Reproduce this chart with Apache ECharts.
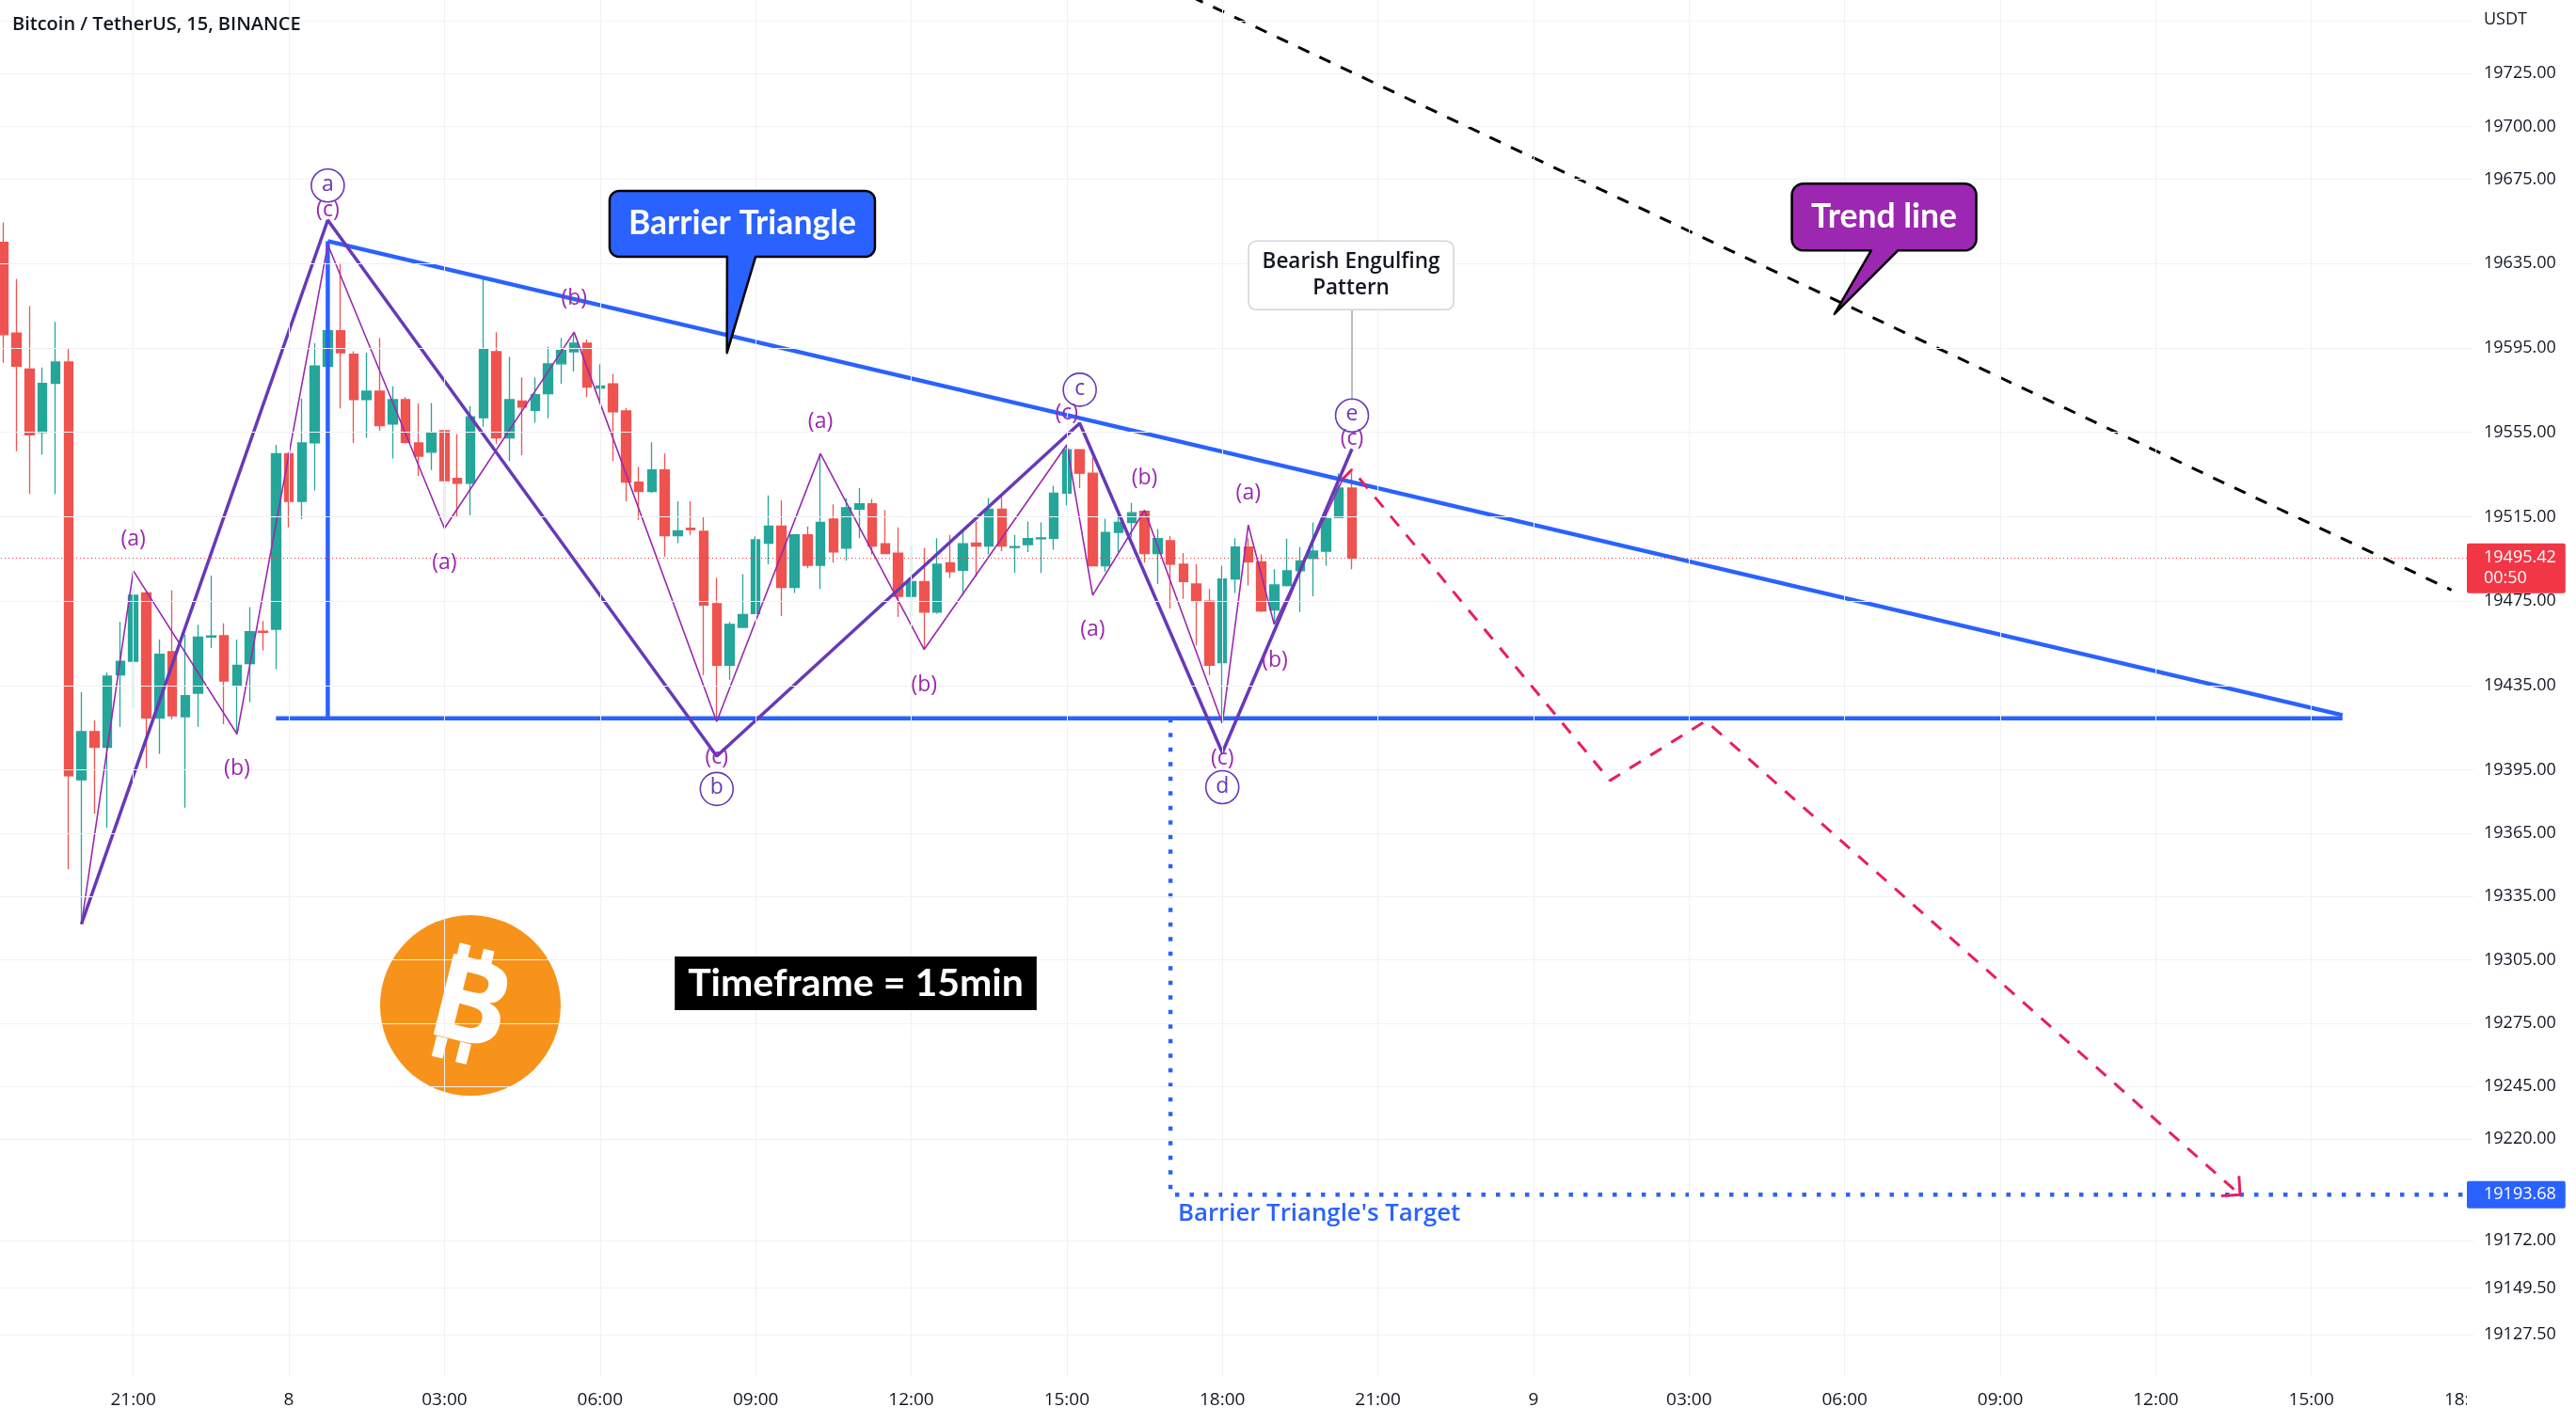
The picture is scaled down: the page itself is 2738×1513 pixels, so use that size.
<!DOCTYPE html>
<html>
<head>
<meta charset="utf-8">
<script src="https://cdn.jsdelivr.net/npm/echarts@6.0.0/dist/echarts.min.js"></script>
<style>
html,body{margin:0;padding:0;background:#ffffff;}
#chart{width:2738px;height:1513px;}
</style>
</head>
<body>
<div id="chart"></div>
<script>
// ---------- time axis: 15-minute bars, first bar on the 7th at 18:30 ----------
const firstBarDay = 7;
const firstBarMinute = 18 * 60 + 30;
const barCount = 191;
const categories = [];
for (let i = 0; i < barCount; i++) {
  const t = firstBarMinute + i * 15;
  const d = firstBarDay + Math.floor(t / 1440);
  const m = t % 1440;
  categories.push(d + ' ' + String(Math.floor(m / 60)).padStart(2, '0') + ':' + String(m % 60).padStart(2, '0'));
}

// ---------- candles ----------
const opens = [19645.1,19602.0,19585.0,19554.9,19578.2,19588.3,19390.3,19413.2,19405.7,19440.0,
  19446.5,19478.9,19419.7,19451.0,19420.2,19431.4,19458.0,19458.6,19435.3,19445.4,
  19460.8,19461.7,19544.9,19522.3,19550.0,19586.4,19603.2,19592.0,19570.5,19574.5,
  19558.9,19570.5,19550.0,19545.6,19555.8,19533.2,19530.9,19561.9,19593.2,19552.4,
  19569.8,19565.4,19573.3,19587.5,19593.2,19597.3,19576.0,19578.0,19565.2,19531.4,
  19527.0,19537.2,19506.0,19509.6,19508.1,19473.8,19444.6,19462.6,19469.1,19502.5,
  19510.6,19481.5,19506.4,19492.0,19513.9,19500.1,19518.6,19521.1,19502.2,19497.8,
  19477.3,19484.3,19469.8,19493.2,19489.6,19502.5,19501.1,19518.6,19500.4,19501.8,
  19504.6,19504.8,19526.2,19546.8,19535.6,19491.8,19507.6,19512.3,19517.6,19497.6,
  19503.6,19492.5,19483.1,19475.0,19445.8,19485.5,19500.6,19493.6,19470.8,19482.4,
  19489.4,19495.2,19498.7,19514.6,19528.6];
const closes = [19601.3,19586.4,19553.8,19578.2,19588.3,19392.2,19413.2,19405.7,19439.5,19446.5,
  19477.8,19419.7,19449.8,19420.7,19430.2,19458.0,19458.5,19437.2,19444.6,19460.5,
  19460.2,19544.9,19522.3,19550.0,19586.4,19603.2,19592.7,19570.5,19574.5,19558.2,
  19570.5,19550.3,19543.7,19554.7,19532.1,19530.9,19562.4,19594.3,19552.4,19570.5,
  19567.0,19572.9,19587.5,19593.8,19597.3,19576.4,19577.0,19564.7,19531.4,19527.0,
  19537.2,19506.0,19508.3,19508.9,19473.1,19444.6,19464.0,19468.7,19504.1,19510.6,
  19481.5,19506.4,19492.0,19512.3,19498.3,19519.3,19521.1,19501.1,19497.6,19477.3,
  19484.3,19469.8,19492.5,19489.0,19502.2,19501.1,19518.6,19501.1,19500.9,19504.6,
  19505.0,19526.2,19546.8,19535.6,19491.8,19507.6,19512.3,19516.9,19497.6,19504.6,
  19492.5,19484.3,19475.0,19444.6,19485.5,19500.6,19493.6,19470.3,19482.7,19489.4,
  19494.1,19498.7,19514.1,19528.6,19495.42];
const lows = [19588.0,19546.1,19525.8,19544.4,19525.8,19347.9,19321.8,19374.3,19367.7,19415.5,
  19424.4,19395.7,19402.7,19419.0,19377.1,19415.5,19452.8,19416.7,19412.0,19427.2,
  19451.7,19442.8,19510.0,19513.9,19527.4,19583.0,19566.3,19550.0,19552.4,19555.8,
  19542.6,19549.6,19534.4,19537.2,19510.0,19515.1,19515.8,19557.7,19549.6,19541.4,
  19544.2,19559.6,19561.7,19578.0,19583.8,19571.7,19570.5,19541.4,19522.3,19513.4,
  19526.3,19496.0,19502.5,19506.4,19440.0,19417.9,19437.7,19462.3,19468.9,19492.5,
  19468.0,19478.9,19490.6,19480.8,19493.2,19494.3,19504.8,19497.1,19497.4,19467.5,
  19467.5,19452.8,19469.1,19486.0,19477.8,19486.6,19497.1,19498.7,19488.3,19498.3,
  19488.3,19499.4,19520.4,19528.6,19491.5,19489.0,19498.3,19505.3,19493.2,19483.1,
  19471.5,19476.1,19454.0,19440.0,19417.1,19478.9,19482.4,19469.8,19464.0,19482.0,
  19469.8,19477.3,19491.8,19514.6,19490.1];
const highs = [19654.5,19627.6,19614.8,19585.7,19607.4,19595.0,19431.8,19418.6,19441.2,19465.2,
  19482.0,19479.5,19456.8,19480.1,19459.1,19463.8,19487.1,19464.5,19456.8,19472.2,
  19465.6,19549.1,19545.5,19571.0,19597.3,19608.0,19635.3,19593.4,19592.7,19599.7,
  19576.8,19571.7,19568.7,19568.9,19556.0,19554.2,19567.5,19627.6,19602.5,19590.8,
  19581.0,19581.0,19595.7,19599.7,19602.0,19599.0,19587.3,19582.7,19566.6,19538.6,
  19550.3,19544.9,19522.3,19522.3,19515.1,19486.0,19465.2,19487.8,19505.7,19525.1,
  19522.8,19506.8,19510.4,19544.9,19520.9,19523.9,19528.6,19523.4,19518.1,19510.0,
  19501.3,19500.1,19504.8,19506.4,19508.1,19512.7,19523.9,19524.4,19506.4,19512.7,
  19512.3,19529.7,19548.9,19547.0,19543.0,19514.1,19515.8,19521.6,19517.8,19509.2,
  19506.0,19497.8,19492.5,19480.8,19491.8,19504.8,19504.8,19497.1,19490.1,19504.6,
  19500.6,19512.3,19518.1,19535.6,19536.0];

// ---------- price scale ----------
const priceMin = 19107.8;
const priceMax = 19759.9;
const priceTicks = [19725, 19700, 19675, 19635, 19595, 19555, 19515, 19475, 19435, 19395,
  19365, 19335, 19305, 19275, 19245, 19220, 19172, 19149.5, 19127.5];
const priceGridOnly = [19750];
const lastPrice = 19495.42;
const lastPriceTimer = '00:50';
const targetPrice = 19193.68;

// ---------- drawings (x = bar index, y = price) ----------
const waveMainX = [6, 25, 55, 83, 94, 104];
const waveMainY = [19322, 19655.6, 19401.5, 19559.3, 19403.2, 19547.2];
const waveSubX = [6, 10, 18, 25, 34, 44, 55, 63, 71, 82, 84, 88, 94, 96, 98, 103.3];
const waveSubY = [19321.8, 19489.4, 19412.0, 19644, 19509.5, 19602.5, 19417.9, 19544.9, 19452.1,
  19549.1, 19477.8, 19518.1, 19417.1, 19511.1, 19464.0, 19533];
const triUpperX = [25, 180.4];
const triUpperY = [19645.6, 19421];
const triSideX = [25, 25];
const triSideY = [19645.6, 19419.5];
const triBaseX = [21, 180.4];
const triBaseY = [19419.5, 19419.5];
const trendX = [90, 188.8];
const trendY = [19766.1, 19480.3];
const projX = [103.3, 104, 123.9, 131.3, 172.5];
const projY = [19533, 19537.4, 19390.0, 19418.3, targetPrice];
const targetLineX = [90, 90, 191];
const targetLineY = [19419.5, targetPrice, targetPrice];

const waveLabelText = ['(a)','(b)','(c)','(a)','(b)','(c)','(a)','(b)','(c)','(a)','(b)','(c)','(a)','(b)','(c)'];
const waveLabelX = [10, 18, 25, 34, 44, 55, 63, 71, 82, 84, 88, 94, 96, 98.05, 104];
const waveLabelY = [19504.1, 19395.7, 19660.3, 19493.1, 19618.3, 19400.8, 19560.0, 19435.3, 19564.0,
  19461.7, 19533.2, 19400.3, 19526.2, 19447.0, 19552.0];
const circleText = ['a', 'b', 'c', 'd', 'e'];
const circleX = [25, 55, 83, 94, 104];
const circleY = [19672, 19386, 19575.2, 19386.8, 19563];

const calloutText = ['Barrier Triangle', 'Trend line'];
const calloutCenterX = [56.97, 145.04];
const calloutCenterY = [19653.8, 19657.0];
const calloutTipX = [55.79, 141.21];
const calloutTipY = [19592.7, 19611.1];

const noteText = 'Bearish Engulfing\nPattern';
const notePos = [103.93, 19629.4];
const noteTarget = [104, 19570.1];
const timeframeText = 'Timeframe = 15min';
const timeframePos = [65.72, 19293.9];
const logoPos = [36.0, 19283.4];
const targetText = "Barrier Triangle's Target";
const targetTextPos = [90.57, 19184.5];

// ---------- styles ----------
const FONT = '"Open Sans", "Noto Sans", sans-serif';
const TEXT = '#131722';
const BLUE = '#2962ff';
const DEEP_PURPLE = '#673ab7';
const PURPLE = '#9c27b0';
const PINK = '#e91e63';
const calloutStyle = [
  {w: 282, h: 70, r: 10, tail: [0.443, 0.55], fill: BLUE},
  {w: 196, h: 71, r: 12, tail: [0.43, 0.575], fill: PURPLE}
];

function timeOf(v) { return v.split(' ')[1]; }
function isMajor(v) {
  const p = timeOf(v).split(':').map(Number);
  return p[1] === 0 && p[0] % 3 === 0;
}
function fmtTime(v) { const s = v.split(' '); return s[1] === '00:00' ? s[0] : s[1]; }
const xGridIdx = categories.map((c, i) => (isMajor(c) && i < barCount - 1) ? i : -1).filter(i => i >= 0);

function pts(xs, ys) { return xs.map((x, i) => [x, ys[i]]); }
function pathSeries(xs, ys, lineStyle, z) {
  return {type: 'line', xAxisIndex: 1, yAxisIndex: 0, data: pts(xs, ys), symbol: 'none', silent: true,
    clip: true, z: z, lineStyle: lineStyle, emphasis: {disabled: true}, animation: false};
}
function roundRectTail(x0, y0, x1, y1, r, b1, b2, tip) {
  const out = [];
  const arc = (cx, cy, a0, a1) => { for (let k = 0; k <= 6; k++) { const a = a0 + (a1 - a0) * k / 6; out.push([cx + r * Math.cos(a), cy + r * Math.sin(a)]); } };
  arc(x0 + r, y0 + r, Math.PI, 1.5 * Math.PI);
  arc(x1 - r, y0 + r, 1.5 * Math.PI, 2 * Math.PI);
  arc(x1 - r, y1 - r, 0, 0.5 * Math.PI);
  if (tip) { out.push([b2, y1]); out.push(tip); out.push([b1, y1]); }
  arc(x0 + r, y1 - r, 0.5 * Math.PI, Math.PI);
  return out;
}

const chart = echarts.init(document.getElementById('chart'), null, {renderer: 'canvas'});
const option = {
  animation: false,
  backgroundColor: '#ffffff',
  title: [
    {text: 'Bitcoin / TetherUS, 15, BINANCE', left: 13, top: 16, padding: 0,
      textStyle: {fontFamily: FONT, fontSize: 20, fontWeight: 600, color: TEXT}},
    {text: 'USDT', left: 2640, top: 12, padding: 0,
      textStyle: {fontFamily: FONT, fontSize: 18, fontWeight: 'normal', color: TEXT}}
  ],
  grid: {left: -3, right: 109, top: 0, bottom: 50, containLabel: false, outerBoundsMode: 'none'},
  xAxis: [
    {type: 'category', data: categories, boundaryGap: true,
      axisLine: {show: false}, axisTick: {show: false}, splitLine: {show: false},
      axisLabel: {interval: (i, v) => isMajor(v), formatter: fmtTime, color: TEXT, fontSize: 19,
        fontFamily: FONT, margin: 16}},
    {type: 'value', min: -0.5, max: barCount - 0.5, show: false}
  ],
  yAxis: {type: 'value', position: 'right', min: priceMin, max: priceMax,
    axisLine: {show: false}, axisTick: {show: false, customValues: priceTicks}, splitLine: {show: false},
    axisLabel: {customValues: priceTicks, formatter: v => Number(v).toFixed(2), color: TEXT, fontSize: 18,
      fontFamily: FONT, margin: 11}},
  graphic: [
    {type: 'rect', z: 100, shape: {x: 2622, y: 1464, width: 116, height: 49}, style: {fill: '#ffffff'}}
  ],
  series: [
    // grid lines
    {type: 'line', xAxisIndex: 1, yAxisIndex: 0, data: [], z: 0, silent: true,
      markLine: {silent: true, symbol: ['none', 'none'], animation: false, label: {show: false},
        emphasis: {disabled: true},
        lineStyle: {color: '#eef1f6', width: 1, type: 'solid'},
        data: xGridIdx.map(i => ({xAxis: i})).concat(priceTicks.concat(priceGridOnly).map(v => ({yAxis: v})))}},
    // bitcoin logo
    {type: 'custom', xAxisIndex: 1, yAxisIndex: 0, z: 1, silent: true, data: [logoPos],
      renderItem: (params, api) => {
        const c = api.coord([api.value(0), api.value(1)]);
        return {type: 'group', x: c[0], y: c[1], children: [
          {type: 'rect', shape: {x: -180, y: -180, width: 360, height: 360}, style: {fill: '#ffffff'}},
          {type: 'circle', shape: {cx: 0, cy: 0, r: 96}, style: {fill: '#f7931a'}},
          {type: 'group', rotation: -14 * Math.PI / 180, children: [
            {type: 'rect', shape: {x: -27, y: -62, width: 12, height: 22}, style: {fill: '#fff'}},
            {type: 'rect', shape: {x: -1, y: -62, width: 12, height: 22}, style: {fill: '#fff'}},
            {type: 'rect', shape: {x: -27, y: 40, width: 12, height: 22}, style: {fill: '#fff'}},
            {type: 'rect', shape: {x: -1, y: 40, width: 12, height: 22}, style: {fill: '#fff'}},
            {type: 'text', style: {text: 'B', x: 0, y: 4, align: 'center', verticalAlign: 'middle',
              fill: '#fff', font: 'bold 124px "Open Sans"'}}
          ]}
        ]};
      }},
    // candles
    {type: 'candlestick', xAxisIndex: 0, yAxisIndex: 0, z: 2, barWidth: 10, silent: true,
      data: opens.map((o, i) => [o, closes[i], lows[i], highs[i]]),
      itemStyle: {color: '#26a69a', color0: '#ef5350', borderColor: '#26a69a', borderColor0: '#ef5350', borderWidth: 1.3},
      markLine: {silent: true, symbol: ['none', 'none'], animation: false,
        data: [
          {yAxis: lastPrice, lineStyle: {color: '#f23645', width: 1, type: [1, 3]},
            label: {show: true, position: 'end', distance: -7, formatter: lastPrice.toFixed(2) + '\n' + lastPriceTimer,
              backgroundColor: '#f23645', color: '#ffffff', fontSize: 18, fontFamily: FONT, lineHeight: 22,
              padding: [5, 10, 4, 18], borderRadius: 2, offset: [0, 11]}},
          {yAxis: targetPrice, lineStyle: {color: 'rgba(41,98,255,0)', width: 0.01},
            label: {show: true, position: 'end', distance: -7, formatter: targetPrice.toFixed(2),
              backgroundColor: BLUE, color: '#ffffff', fontSize: 18, fontFamily: FONT, lineHeight: 22,
              padding: [4, 10, 3, 18], borderRadius: 2}}
        ]}},
    // drawings
    pathSeries(triBaseX, triBaseY, {color: BLUE, width: 4.5}, 3),
    pathSeries(triSideX, triSideY, {color: BLUE, width: 4.5}, 3),
    pathSeries(triUpperX, triUpperY, {color: BLUE, width: 4.5}, 3),
    pathSeries(targetLineX, targetLineY, {color: BLUE, width: 4.5, type: [4.5, 11], cap: 'butt'}, 3),
    pathSeries(trendX, trendY, {color: '#000000', width: 3, type: [13, 12]}, 3),
    pathSeries(waveSubX, waveSubY, {color: PURPLE, width: 1.6}, 4),
    pathSeries(waveMainX, waveMainY, {color: DEEP_PURPLE, width: 3.5}, 4),
    pathSeries(projX, projY, {color: PINK, width: 3, type: [14, 12]}, 5),
    // arrow head of the projection
    {type: 'custom', xAxisIndex: 1, yAxisIndex: 0, z: 5, silent: true,
      data: [[projX[projX.length - 1], projY[projY.length - 1], projX[projX.length - 2], projY[projY.length - 2]]],
      renderItem: (params, api) => {
        const tip = api.coord([api.value(0), api.value(1)]);
        const from = api.coord([api.value(2), api.value(3)]);
        const ang = Math.atan2(from[1] - tip[1], from[0] - tip[0]);
        const L = 20, s = Math.PI / 4;
        return {type: 'polyline', shape: {points: [
          [tip[0] + L * Math.cos(ang + s), tip[1] + L * Math.sin(ang + s)], tip,
          [tip[0] + L * Math.cos(ang - s), tip[1] + L * Math.sin(ang - s)]]},
          style: {stroke: PINK, lineWidth: 3, fill: null}};
      }},
    // wave labels
    {type: 'custom', xAxisIndex: 1, yAxisIndex: 0, z: 6, silent: true, data: pts(waveLabelX, waveLabelY),
      renderItem: (params, api) => {
        const c = api.coord([api.value(0), api.value(1)]);
        return {type: 'text', style: {text: waveLabelText[params.dataIndex], x: c[0], y: c[1], align: 'center',
          verticalAlign: 'middle', fill: PURPLE, font: '23px ' + FONT}};
      }},
    {type: 'custom', xAxisIndex: 1, yAxisIndex: 0, z: 6, silent: true, data: pts(circleX, circleY),
      renderItem: (params, api) => {
        const c = api.coord([api.value(0), api.value(1)]);
        return {type: 'group', children: [
          {type: 'circle', shape: {cx: c[0], cy: c[1], r: 17.5}, style: {fill: 'rgba(255,255,255,0)', stroke: DEEP_PURPLE, lineWidth: 1.6}},
          {type: 'text', style: {text: circleText[params.dataIndex], x: c[0], y: c[1] - 1, align: 'center',
            verticalAlign: 'middle', fill: DEEP_PURPLE, font: '23px ' + FONT}}
        ]};
      }},
    // callouts
    {type: 'custom', xAxisIndex: 1, yAxisIndex: 0, z: 7, silent: true,
      data: calloutText.map((t, i) => [calloutCenterX[i], calloutCenterY[i], calloutTipX[i], calloutTipY[i]]),
      renderItem: (params, api) => {
        const i = params.dataIndex, st = calloutStyle[i];
        const c = api.coord([api.value(0), api.value(1)]);
        const tip = api.coord([api.value(2), api.value(3)]);
        const x0 = c[0] - st.w / 2, x1 = c[0] + st.w / 2, y0 = c[1] - st.h / 2, y1 = c[1] + st.h / 2;
        const poly = roundRectTail(x0, y0, x1, y1, st.r, x0 + st.w * st.tail[0], x0 + st.w * st.tail[1], tip);
        return {type: 'group', children: [
          {type: 'polygon', shape: {points: poly}, style: {fill: st.fill, stroke: '#000000', lineWidth: 2.5, lineJoin: 'round'}},
          {type: 'text', style: {text: calloutText[i], x: c[0], y: c[1], align: 'center', verticalAlign: 'middle',
            fill: '#ffffff', font: 'bold 35.5px Lato'}}
        ]};
      }},
    // bearish engulfing note
    {type: 'custom', xAxisIndex: 1, yAxisIndex: 0, z: 7, silent: true, data: [[notePos[0], notePos[1], noteTarget[0], noteTarget[1]]],
      renderItem: (params, api) => {
        const c = api.coord([api.value(0), api.value(1)]);
        const t = api.coord([api.value(2), api.value(3)]);
        const w = 218, h = 73;
        return {type: 'group', children: [
          {type: 'line', shape: {x1: t[0], y1: c[1] + h / 2, x2: t[0], y2: t[1]}, style: {stroke: '#787b86', lineWidth: 1}},
          {type: 'rect', shape: {x: c[0] - w / 2, y: c[1] - h / 2, width: w, height: h, r: 8},
            style: {fill: '#ffffff', stroke: '#d1d4dc', lineWidth: 1.5}},
          {type: 'text', style: {text: noteText, x: c[0], y: c[1], align: 'center', verticalAlign: 'middle',
            fill: TEXT, font: '600 22.5px ' + FONT, lineHeight: 28}}
        ]};
      }},
    // timeframe box
    {type: 'custom', xAxisIndex: 1, yAxisIndex: 0, z: 7, silent: true, data: [timeframePos],
      renderItem: (params, api) => {
        const c = api.coord([api.value(0), api.value(1)]);
        return {type: 'text', style: {text: timeframeText, x: c[0], y: c[1], align: 'center', verticalAlign: 'middle',
          fill: '#ffffff', backgroundColor: '#000000', padding: [9, 14, 7, 14], font: 'bold 41px Lato'}};
      }},
    // target text
    {type: 'custom', xAxisIndex: 1, yAxisIndex: 0, z: 7, silent: true, data: [targetTextPos],
      renderItem: (params, api) => {
        const c = api.coord([api.value(0), api.value(1)]);
        return {type: 'text', style: {text: targetText, x: c[0], y: c[1], align: 'left', verticalAlign: 'middle',
          fill: BLUE, font: '600 25.8px ' + FONT}};
      }}
  ]
};
chart.setOption(option);
</script>
</body>
</html>
